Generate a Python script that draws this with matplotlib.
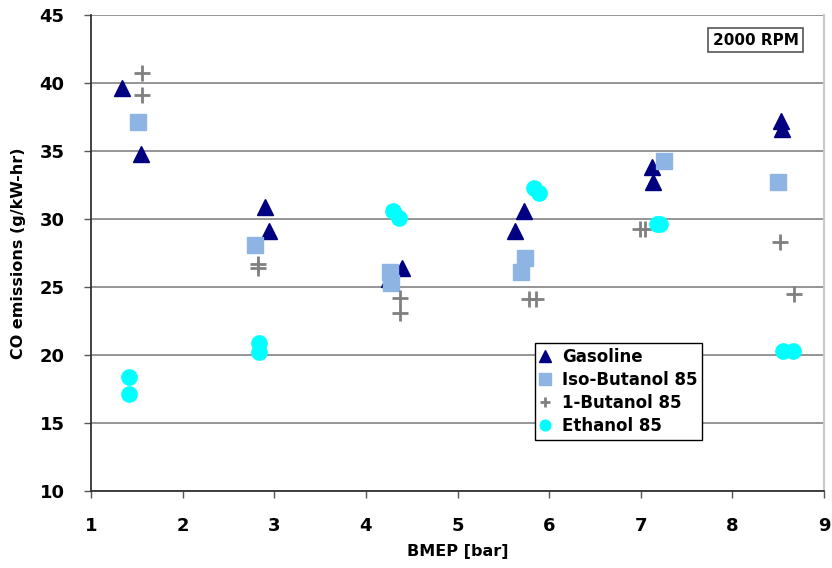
import matplotlib
matplotlib.use("Agg")
import matplotlib.pyplot as plt

plt.rcParams['font.family'] = ['DejaVu Sans']
plt.rcParams['font.weight'] = 'bold'

# CO emissions vs. BMEP at 2000 RPM
gasoline_x = [1.34, 1.55, 2.90, 2.94, 4.25, 4.39, 5.63, 5.73, 7.12, 7.13, 8.53, 8.54]
gasoline_y = [39.6, 34.8, 30.9, 29.1, 25.6, 26.4, 29.1, 30.6, 33.8, 32.7, 37.2, 36.6]

isobutanol_x = [1.51, 2.79, 4.26, 4.27, 5.69, 5.74, 7.25, 8.50]
isobutanol_y = [37.1, 28.1, 26.1, 25.3, 26.1, 27.1, 34.3, 32.7]

butanol_x = [1.56, 1.56, 2.82, 2.82, 4.37, 4.37, 5.78, 5.86, 6.99, 7.05, 8.52, 8.67]
butanol_y = [40.7, 39.1, 26.7, 26.4, 24.2, 23.1, 24.1, 24.1, 29.3, 29.3, 28.3, 24.5]

ethanol_x = [1.41, 1.41, 2.83, 2.83, 4.30, 4.36, 5.84, 5.89, 7.18, 7.21, 8.55, 8.66]
ethanol_y = [18.4, 17.1, 20.9, 20.2, 30.6, 30.1, 32.3, 31.9, 29.6, 29.6, 20.3, 20.3]

series_labels = ['Gasoline', 'Iso-Butanol 85', '1-Butanol 85', 'Ethanol 85']
x_ticks = [1, 2, 3, 4, 5, 6, 7, 8, 9]
y_ticks = [10, 15, 20, 25, 30, 35, 40, 45]

fig = plt.figure(figsize=(8.32, 5.68), dpi=100)
ax = fig.add_axes([0.1094, 0.1356, 0.8810, 0.8380])

ax.plot(gasoline_x, gasoline_y, ls='none', marker='^', ms=12,
        color='#000080', label=series_labels[0])
ax.plot(isobutanol_x, isobutanol_y, ls='none', marker='s', ms=12,
        color='#8EB4E3', label=series_labels[1])
ax.plot(butanol_x, butanol_y, ls='none', marker='+', ms=11, mew=2.0,
        color='#808080', label=series_labels[2])
ax.plot(ethanol_x, ethanol_y, ls='none', marker='o', ms=11,
        color='#00FFFF', label=series_labels[3])

ax.set_xlim(1, 9)
ax.set_ylim(10, 45)
ax.set_xticks(x_ticks)
ax.set_yticks(y_ticks)
ax.tick_params(axis='both', labelsize=13, length=5, width=1,
               color='#555555')
ax.tick_params(axis='x', pad=14)
ax.tick_params(axis='y', pad=14)
for lab in ax.get_xticklabels() + ax.get_yticklabels():
    lab.set_fontweight('bold')

ax.grid(axis='y', color='#8c8c8c', lw=1.3)
ax.set_axisbelow(True)
ax.spines['top'].set_visible(False)
ax.spines['right'].set_color('#c8c8c8')
ax.spines['right'].set_linewidth(1.5)
ax.spines['left'].set_color('#333333')
ax.spines['bottom'].set_color('#333333')
ax.spines['left'].set_linewidth(1.3)
ax.spines['bottom'].set_linewidth(1.3)

ax.set_xlabel('BMEP [bar]', fontsize=11.5, fontweight='bold', labelpad=6)
ax.set_ylabel('CO emissions (g/kW-hr)', fontsize=11.5, fontweight='bold',
              labelpad=10)

leg = ax.legend(loc='lower left', bbox_to_anchor=(0.606, 0.107),
                fontsize=12, markerscale=0.7, handlelength=0.6,
                handletextpad=0.7, labelspacing=0.3, borderpad=0.3,
                fancybox=False, framealpha=1, edgecolor='black',
                borderaxespad=0)
leg.get_frame().set_linewidth(1.0)
for t in leg.get_texts():
    t.set_fontweight('bold')

ax.text(0.907, 0.947, '2000 RPM', transform=ax.transAxes, ha='center',
        va='center', fontsize=11, fontweight='bold',
        bbox=dict(boxstyle='square,pad=0.3', fc='white', ec='#555555',
                  lw=1.2))

fig.savefig('out.png', dpi=100)
